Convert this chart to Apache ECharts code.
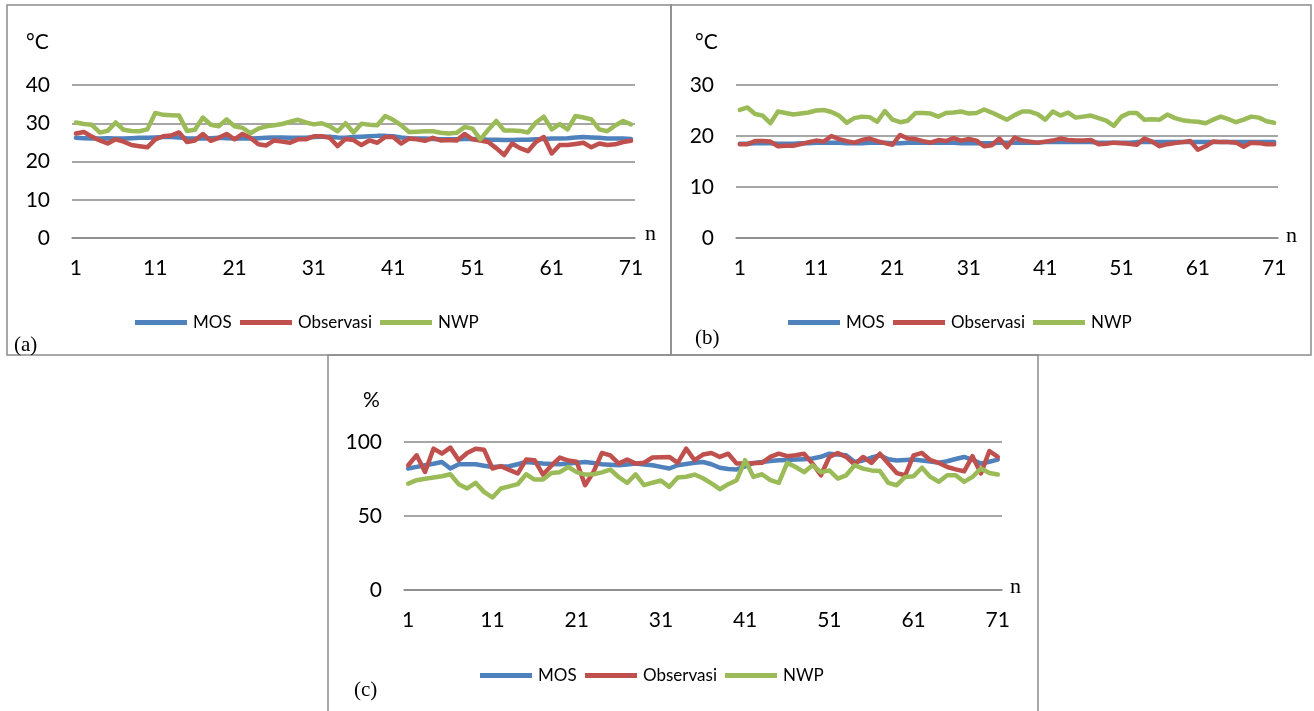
<!DOCTYPE html>
<html>
<head>
<meta charset="utf-8">
<script src="https://cdn.jsdelivr.net/npm/echarts@6/dist/echarts.min.js"></script>
<style>
  html, body { margin: 0; padding: 0; background: #ffffff; }
  #chart { width: 1314px; height: 711px; }
</style>
</head>
<body>
<div id="chart"></div>
<script>
// Day index n = 1..71 (category labels)
const categories = Array.from({ length: 71 }, (_, i) => String(i + 1));

// (a) temperature, °C
const aMOS = [26.2,26.1,26.0,26.0,26.1,26.0,26.0,26.1,26.2,26.2,
  26.3,26.4,26.4,26.3,26.1,26.0,26.0,26.1,26.2,26.1,
  26.0,26.0,26.0,26.1,26.2,26.3,26.3,26.2,26.2,26.2,
  26.4,26.5,26.5,26.3,26.2,26.4,26.5,26.6,26.7,26.7,
  26.6,26.3,26.1,26.0,26.0,25.9,25.8,25.8,25.8,25.9,
  25.9,25.8,25.7,25.7,25.6,25.6,25.7,25.7,25.8,25.9,
  26.0,26.0,26.1,26.3,26.4,26.3,26.2,26.0,26.0,26.0,25.9];
const aObs = [27.3,27.7,26.5,25.5,24.7,25.8,25.2,24.3,24.0,23.7,
  25.8,26.6,26.8,27.6,25.1,25.5,27.2,25.4,26.2,27.2,
  25.8,27.2,26.2,24.5,24.2,25.5,25.2,24.9,25.8,25.8,
  26.6,26.6,26.2,24.0,25.9,25.6,24.3,25.5,24.9,26.4,
  26.4,24.7,26.0,25.8,25.4,26.2,25.5,25.6,25.5,27.2,
  25.8,25.5,25.1,23.5,21.7,24.7,23.5,22.7,25.1,26.4,
  22.1,24.3,24.3,24.6,24.9,23.7,24.7,24.3,24.5,25.1,25.4];
const aNWP = [30.2,29.8,29.6,27.6,28.0,30.2,28.3,28.0,27.9,28.4,
  32.7,32.2,32.1,32.0,28.0,28.3,31.5,29.6,29.2,31.0,
  29.2,28.8,27.4,28.6,29.2,29.5,29.8,30.4,30.9,30.2,
  29.7,30.0,29.2,27.9,30.0,27.6,29.9,29.6,29.5,31.9,
  30.9,29.5,27.7,27.8,27.9,27.9,27.5,27.3,27.5,29.0,
  28.6,25.8,28.3,30.6,28.1,28.1,28.0,27.6,30.2,31.7,
  28.4,29.8,28.4,31.9,31.5,31.0,28.4,27.9,29.4,30.6,29.7];
const aTicks = [0, 10, 20, 30, 40];

// (b) temperature, °C
const bMOS = [18.5,18.5,18.6,18.6,18.6,18.5,18.5,18.5,18.6,18.6,
  18.7,18.7,18.7,18.7,18.6,18.6,18.6,18.7,18.7,18.7,
  18.6,18.6,18.7,18.7,18.7,18.7,18.7,18.7,18.7,18.6,
  18.6,18.6,18.6,18.6,18.7,18.7,18.7,18.7,18.7,18.7,
  18.8,18.8,18.8,18.8,18.8,18.8,18.8,18.7,18.7,18.7,
  18.7,18.7,18.8,18.8,18.8,18.8,18.8,18.8,18.8,18.8,
  18.8,18.8,18.8,18.8,18.8,18.8,18.8,18.8,18.8,18.8,18.8];
const bObs = [18.4,18.4,19.0,19.0,18.9,18.0,18.1,18.1,18.4,18.8,
  19.1,18.9,20.0,19.4,19.0,18.7,19.2,19.5,19.0,18.6,
  18.3,20.2,19.5,19.4,19.0,18.7,19.2,19.0,19.6,19.1,
  19.4,19.1,18.0,18.2,19.5,17.8,19.7,19.1,18.9,18.7,
  18.9,19.1,19.5,19.2,19.1,19.1,19.2,18.4,18.5,18.7,
  18.6,18.5,18.3,19.5,18.9,18.0,18.4,18.6,18.8,19.0,
  17.3,18.0,18.9,18.8,18.8,18.7,17.9,18.7,18.6,18.4,18.4];
const bNWP = [25.1,25.6,24.3,24.0,22.5,24.8,24.5,24.2,24.4,24.6,
  25.0,25.1,24.7,24.0,22.6,23.5,23.8,23.7,22.8,24.9,
  23.2,22.7,23.0,24.5,24.5,24.4,23.8,24.5,24.6,24.8,
  24.4,24.5,25.2,24.6,23.9,23.2,24.1,24.8,24.8,24.3,
  23.2,24.8,24.0,24.6,23.6,23.8,24.0,23.5,23.0,22.0,
  23.8,24.5,24.5,23.2,23.3,23.2,24.2,23.5,23.1,22.9,
  22.8,22.5,23.2,23.8,23.3,22.7,23.2,23.8,23.6,22.9,22.6];
const bTicks = [0, 10, 20, 30];

// (c) relative humidity, %
const cMOS = [82.1,83.2,84.3,85.3,86.5,82.1,85.0,85.0,85.0,84.0,
  83.1,83.4,83.6,85.0,86.5,86.0,85.4,85.2,85.0,85.5,
  86.0,86.5,85.8,85.0,84.6,84.3,84.8,85.4,84.8,84.3,
  83.2,82.1,84.3,85.2,86.0,86.5,85.0,82.6,81.8,81.5,
  83.5,85.9,86.5,87.1,87.7,87.9,88.1,88.4,88.8,90.0,
  92.1,91.5,91.0,86.5,87.5,89.5,91.0,88.3,87.5,87.8,
  88.1,87.5,86.8,86.0,87.0,88.5,89.9,88.0,85.4,86.7,88.1];
const cObs = [84.3,91.0,79.8,95.5,92.2,96.2,87.7,92.6,95.5,94.8,
  82.1,83.7,81.2,78.7,88.1,87.7,78.0,84.0,89.5,87.5,
  86.6,70.8,79.8,92.6,91.0,85.4,88.1,85.4,86.0,89.5,
  89.7,89.9,85.9,95.5,87.7,91.5,92.6,89.9,92.1,85.4,
  85.4,85.6,85.9,89.9,92.1,90.4,91.0,92.1,85.4,77.5,
  89.9,92.6,89.9,84.8,89.9,85.9,92.1,85.4,79.0,77.5,
  91.0,92.6,87.7,85.9,83.1,81.5,80.2,90.4,78.7,93.9,89.9];
const cNWP = [71.9,74.2,75.2,76.0,76.9,78.2,71.5,68.6,72.4,66.3,
  62.5,68.6,70.0,71.5,78.2,74.6,74.6,79.1,79.6,83.1,
  79.6,78.0,78.2,79.5,81.4,76.2,72.4,78.2,70.8,72.5,
  74.0,69.7,76.0,76.5,78.0,75.5,72.0,68.1,71.5,74.2,
  87.7,76.4,78.2,74.2,72.4,85.9,83.1,79.6,84.3,79.6,
  80.8,75.3,77.5,84.3,82.0,80.8,80.4,72.4,70.8,76.4,
  76.9,82.6,76.4,73.1,77.5,77.5,73.1,76.4,82.1,79.1,78.0];
const cTicks = [0, 50, 100];

const seriesNames = ['MOS', 'Observasi', 'NWP'];
const seriesColors = ['#4F81BD', '#C0504D', '#9BBB59'];

const SANS = 'Lato, "Open Sans", sans-serif';
const SERIF = '"Liberation Serif", "DejaVu Serif", serif';
const GRID_GRAY = '#898989';
const BORDER_GRAY = '#8c8c8c';

const panels = [
  { data: [aMOS, aObs, aNWP], ticks: aTicks, grid: { left: 72, top: 85, width: 563, height: 153 } },
  { data: [bMOS, bObs, bNWP], ticks: bTicks, grid: { left: 736, top: 85, width: 542, height: 153 } },
  { data: [cMOS, cObs, cNWP], ticks: cTicks, grid: { left: 404, top: 442, width: 598, height: 148 } }
];

const grids = [], xAxes = [], yAxes = [], series = [];
panels.forEach((p, k) => {
  grids.push(Object.assign({ containLabel: false }, p.grid));
  xAxes.push({
    type: 'category', gridIndex: k, data: categories, boundaryGap: true,
    axisLine: { lineStyle: { color: GRID_GRAY, width: 1.5 } },
    axisTick: { show: false },
    axisLabel: {
      interval: (idx) => idx % 10 === 0,
      color: '#000', fontFamily: SANS, fontSize: 21, margin: 20
    },
    splitLine: { show: false }
  });
  const step = p.ticks[1] - p.ticks[0];
  yAxes.push({
    type: 'value', gridIndex: k,
    min: p.ticks[0], max: p.ticks[p.ticks.length - 1], interval: step,
    axisLine: { show: false }, axisTick: { show: false },
    axisLabel: { color: '#000', fontFamily: SANS, fontSize: 21, margin: 22 },
    splitLine: { lineStyle: { color: GRID_GRAY, width: 1.5 } }
  });
  p.data.forEach((vals, s) => {
    series.push({
      type: 'line', name: seriesNames[s], xAxisIndex: k, yAxisIndex: k,
      data: vals, symbol: 'none', smooth: false,
      color: seriesColors[s],
      lineStyle: { width: 4.5, color: seriesColors[s], join: 'round', cap: 'round' },
      emphasis: { disabled: true }, z: 2 + s
    });
  });
});

// One legend entry per component so each sits at its own spot
const legendSpots = [
  [135, 314], [240, 314], [380, 314],
  [788, 314], [893, 314], [1033, 314],
  [480, 667], [585, 667], [725, 667]
];
const legends = legendSpots.map((pos, i) => ({
  data: [seriesNames[i % 3]],
  left: pos[0], top: pos[1],
  icon: 'rect', itemWidth: 52, itemHeight: 5, itemGap: 0,
  padding: 0,
  textStyle: { fontFamily: SANS, fontSize: 17, color: '#000', padding: [0, 0, 0, 1] },
  selectedMode: false
}));

const txt = (x, y, text, font, size, align) => ({
  type: 'text', x: x, y: y, z: 10,
  style: { text: text, font: size + 'px ' + font, fill: '#000', align: align || 'left', verticalAlign: 'middle' }
});

const graphic = [
  // panel frames
  { type: 'rect', shape: { x: 7, y: 5, width: 664, height: 350 }, style: { fill: 'none', stroke: BORDER_GRAY, lineWidth: 1.5 } },
  { type: 'rect', shape: { x: 671, y: 5, width: 640, height: 350 }, style: { fill: 'none', stroke: BORDER_GRAY, lineWidth: 1.5 } },
  { type: 'rect', shape: { x: 328, y: 355, width: 710, height: 360 }, style: { fill: 'none', stroke: BORDER_GRAY, lineWidth: 1.5 } },
  // unit labels
  txt(26, 42, '°C', SANS, 21),
  txt(695, 42, '°C', SANS, 21),
  txt(363, 400, '%', SANS, 21),
  // axis name n
  txt(645, 234, 'n', SERIF, 22),
  txt(1286, 236, 'n', SERIF, 22),
  txt(1010, 587, 'n', SERIF, 22),
  // panel tags
  txt(14, 345, '(a)', SERIF, 21),
  txt(695, 338, '(b)', SERIF, 21),
  txt(354, 690, '(c)', SERIF, 21)
];

const chart = echarts.init(document.getElementById('chart'), null, { renderer: 'canvas' });
chart.setOption({
  backgroundColor: '#ffffff',
  animation: false,
  grid: grids,
  xAxis: xAxes,
  yAxis: yAxes,
  legend: legends,
  series: series,
  graphic: graphic
});
</script>
</body>
</html>
